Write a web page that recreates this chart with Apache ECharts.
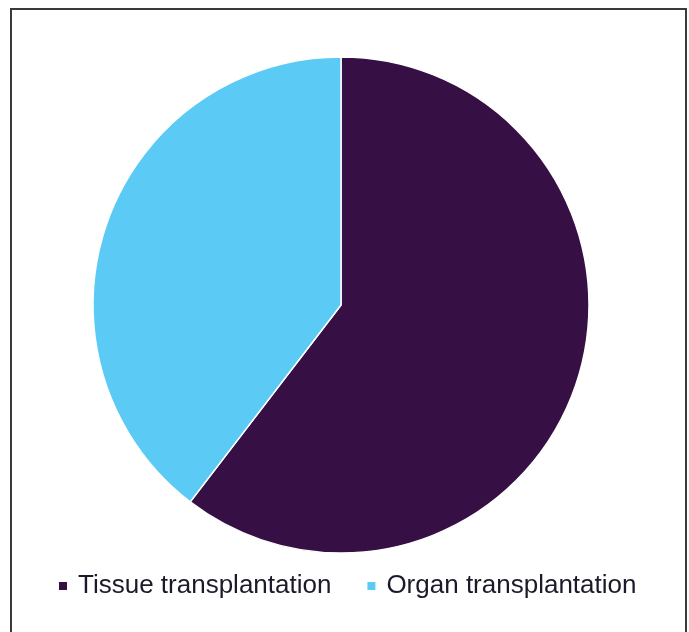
<!DOCTYPE html>
<html>
<head>
<meta charset="utf-8">
<script src="https://cdn.jsdelivr.net/npm/echarts@6/dist/echarts.min.js"></script>
<style>
html,body{margin:0;padding:0;background:#fff;}
#chart{width:689px;height:632px;}
</style>
</head>
<body>
<div id="chart"></div>
<script>
const categories = ["Tissue transplantation", "Organ transplantation"];
const values = [60.4, 39.6];
const colors = ["#361045", "#5BCBF5"];

const chart = echarts.init(document.getElementById('chart'));
chart.setOption({
  animation: false,
  graphic: [{
    type: 'rect',
    shape: {x: 11, y: 9, width: 675, height: 660},
    style: {fill: 'none', stroke: '#3a3a3a', lineWidth: 2},
    silent: true
  }],
  legend: {
    top: 568,
    left: 52,
    itemWidth: 10,
    itemHeight: 10,
    itemGap: 34,
    icon: 'rect',
    textStyle: {fontFamily: 'Liberation Sans', fontSize: 26, color: '#1a1a2a', padding: [0, 0, 0, 5]},
    data: categories
  },
  series: [{
    type: 'pie',
    center: [341, 305],
    radius: 248,
    startAngle: 90,
    clockwise: true,
    label: {show: false},
    labelLine: {show: false},
    itemStyle: {borderColor: '#fff', borderWidth: 1.5},
    emphasis: {disabled: true},
    data: categories.map((c, i) => ({name: c, value: values[i], itemStyle: {color: colors[i]}}))
  }]
});
</script>
</body>
</html>
